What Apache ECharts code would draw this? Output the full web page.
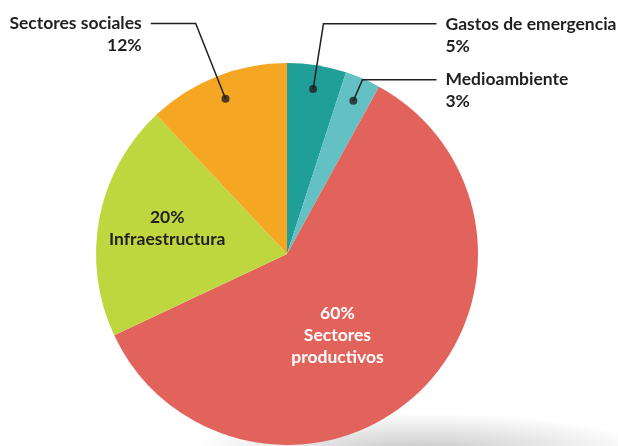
<!DOCTYPE html>
<html>
<head>
<meta charset="utf-8">
<script src="https://cdn.jsdelivr.net/npm/echarts@6/dist/echarts.min.js"></script>
<style>
  html, body { margin: 0; padding: 0; background: #fff; }
  #chart { width: 618px; height: 446px; }
</style>
</head>
<body>
<div id="chart"></div>
<script>
// data
const categories = ['Gastos de emergencia', 'Medioambiente', 'Sectores productivos', 'Infraestructura', 'Sectores sociales']
const labelNames = ['Gastos de emergencia', 'Medioambiente', 'Sectores\nproductivos', 'Infraestructura', 'Sectores sociales']
const values = [5, 3, 60, 20, 12]
const outsideLabels = ['Gastos de emergencia', 'Medioambiente', 'Sectores sociales']

// styles
const colors = ['#1f9f98', '#63c1c4', '#e2635c', '#bfd73f', '#f5a623']
const textColor = '#231f20'
const font = 'Lato, sans-serif'
const fontSize = 17.5
const lineLen = {
  'Gastos de emergencia': [66, 113],
  'Medioambiente': [23, 74],
  'Sectores sociales': [81, 45],
}
const insideOffset = {
  'Infraestructura': [-23, -7],
  'Sectores productivos': [-17, 10],
}
const center = [287, 254]
const R = 191
const rDot = 167

const total = values.reduce((a, b) => a + b, 0)
let acc = 0
const mids = values.map(v => {
  const m = acc + v / 2
  acc += v
  return (m / total) * 100
})

const chart = echarts.init(document.getElementById('chart'))

const mainData = categories.map((c, i) => {
  const inside = outsideLabels.indexOf(c) < 0
  return {
    name: c,
    value: values[i],
    itemStyle: { color: colors[i] },
    label: inside ? {
      show: true,
      position: 'inside',
      formatter: values[i] + '%\n' + labelNames[i],
      color: c === 'Sectores productivos' ? '#ffffff' : textColor,
      offset: insideOffset[c],
    } : { show: false },
  }
})

// empty first line keeps the name level with the leader line
const guideData = categories.map((c, i) => {
  const out = outsideLabels.indexOf(c) >= 0
  return {
    name: c,
    value: values[i],
    label: out ? {
      show: true,
      formatter: ' \n' + labelNames[i] + '\n' + values[i] + '%',
    } : { show: false },
    labelLine: out ? {
      show: true,
      length: lineLen[c][0],
      length2: lineLen[c][1],
    } : { show: false },
  }
})

const dotData = categories
  .map((c, i) => outsideLabels.indexOf(c) >= 0 ? [rDot / R * 100, mids[i]] : null)
  .filter(d => d)

chart.setOption({
  animation: false,
  graphic: [{
    type: 'circle',
    z: -10,
    x: 420,
    y: 452,
    scaleY: 0.17,
    shape: { r: 230 },
    style: {
      fill: {
        type: 'radial', x: 0.5, y: 0.5, r: 0.5,
        colorStops: [
          { offset: 0, color: 'rgba(0,0,0,0.22)' },
          { offset: 1, color: 'rgba(0,0,0,0)' },
        ],
      },
    },
    silent: true,
  }],
  polar: { center: center, radius: R },
  angleAxis: { type: 'value', min: 0, max: 100, startAngle: 90, clockwise: true, show: false },
  radiusAxis: { type: 'value', min: 0, max: 100, show: false },
  series: [
    {
      type: 'pie',
      center: center,
      radius: R,
      startAngle: 90,
      silent: true,
      z: 2,
      label: {
        fontFamily: font,
        fontWeight: 'bold',
        fontSize: fontSize,
        lineHeight: 22,
      },
      data: mainData,
    },
    {
      type: 'pie',
      center: center,
      radius: rDot,
      startAngle: 90,
      silent: true,
      z: 4,
      avoidLabelOverlap: false,
      labelLayout: { hideOverlap: false },
      itemStyle: { color: 'rgba(0,0,0,0)' },
      label: {
        position: 'outside',
        fontFamily: font,
        fontWeight: 'bold',
        fontSize: fontSize,
        lineHeight: 22,
        color: textColor,
        overflow: 'none',
        distanceToLabelLine: 9,
      },
      labelLine: {
        lineStyle: { color: textColor, width: 1.5 },
      },
      data: guideData,
    },
    {
      type: 'scatter',
      coordinateSystem: 'polar',
      symbolSize: 8,
      silent: true,
      z: 6,
      itemStyle: { color: textColor },
      data: dotData,
    },
  ],
})
</script>
</body>
</html>
